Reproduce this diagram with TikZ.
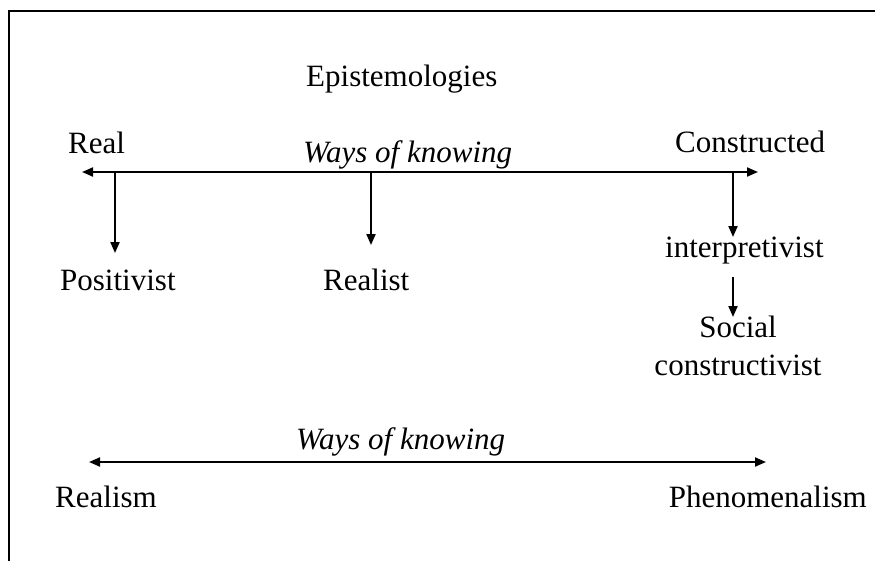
\documentclass[tikz,border=0pt]{standalone}
\usepackage{fontspec}
\setmainfont{Liberation Serif}
\usetikzlibrary{arrows.meta}
\begin{document}
\begin{tikzpicture}[x=1pt,y=-1pt,
  word/.style={inner sep=0pt, anchor=base west, font=\fontsize{31}{36}\selectfont},
  caption/.style={word, anchor=base west, font=\fontsize{31}{36}\selectfont\itshape},
  axis/.style={line width=2pt, {Triangle[length=11pt,width=9pt]}-{Triangle[length=11pt,width=9pt]}},
  drop/.style={line width=2pt, -{Triangle[length=11pt,width=9pt]}}]
\useasboundingbox (0,0) rectangle (875,560);
\clip (0,0) rectangle (875,560);
\fill[white] (0,0) rectangle (875,560);
% frame (only its top and left sides fall inside the page)
\draw[line width=2pt] (9,11) rectangle (900,600);

% upper scale: epistemologies
\node[word] (epi) at (306,86) {Epistemologies};
\node[word] (real) at (68,153) {Real};
\node[caption] (wok1) at (303,162) {Ways of knowing};
\node[word] (cons) at (675,152) {Constructed};

\coordinate (axL) at (82,172);
\coordinate (axR) at (758,172);
\draw[axis] (axL) -- (axR);

\node[word] (pos) at (60,290) {Positivist};
\node[word] (rea) at (323,290) {Realist};
\node[word] (interp) at (665,257) {interpretivist};
\node[word, anchor=base] (soc) at (738,337) {Social};
\node[word, anchor=base] (constr) at (738,375) {constructivist};

\coordinate (p0) at (115,172); \coordinate (p1) at (115,253);
\coordinate (r0) at (371,172); \coordinate (r1) at (371,245);
\coordinate (i0) at (733,172); \coordinate (i1) at (733,237);
\coordinate (s0) at (733,277); \coordinate (s1) at (733,317);
\draw[drop] (p0) -- (p1);
\draw[drop] (r0) -- (r1);
\draw[drop] (i0) -- (i1);
\draw[drop] (s0) -- (s1);

% lower scale: ontologies
\node[caption] (wok2) at (296,449) {Ways of knowing};
\coordinate (bL) at (89,462);
\coordinate (bR) at (766,462);
\draw[axis] (bL) -- (bR);
\node[word] (realism) at (55,507) {Realism};
\node[word, anchor=base east] (phen) at (867,507) {Phenomenalism};
\end{tikzpicture}
\end{document}
